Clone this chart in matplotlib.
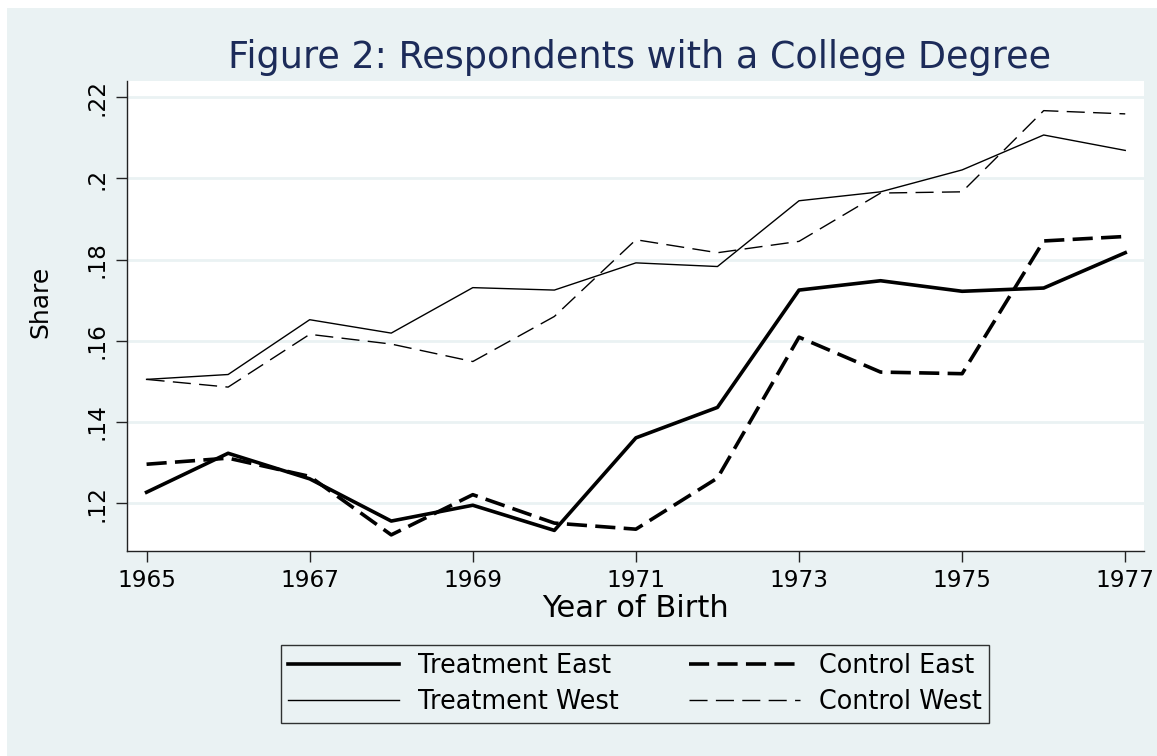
import matplotlib
matplotlib.use("Agg")
import matplotlib.pyplot as plt
from matplotlib.patches import Rectangle

plt.rcParams['font.family'] = ['DejaVu Sans']
plt.rcParams['lines.scale_dashes'] = False

years = [1965, 1966, 1967, 1968, 1969, 1970, 1971, 1972, 1973, 1974, 1975, 1976, 1977]
treat_east = [0.1227, 0.1323, 0.1260, 0.1156, 0.1195, 0.1133, 0.1361, 0.1436, 0.1725, 0.1748, 0.1722, 0.1730, 0.1817]
control_east = [0.1296, 0.1311, 0.1266, 0.1122, 0.1221, 0.1151, 0.1136, 0.1262, 0.1609, 0.1523, 0.1519, 0.1846, 0.1857]
treat_west = [0.1505, 0.1517, 0.1652, 0.1619, 0.1731, 0.1725, 0.1792, 0.1783, 0.1945, 0.1967, 0.2021, 0.2107, 0.2069]
control_west = [0.1505, 0.1486, 0.1616, 0.1592, 0.1549, 0.1660, 0.1849, 0.1817, 0.1845, 0.1964, 0.1967, 0.2167, 0.2159]

xticks = [1965, 1967, 1969, 1971, 1973, 1975, 1977]
yticks = [0.12, 0.14, 0.16, 0.18, 0.20, 0.22]
ytick_labels = ['.12', '.14', '.16', '.18', '.2', '.22']

bg = '#eaf2f3'
navy = '#1c2b59'

fig = plt.figure(figsize=(11.57, 7.56), dpi=100, facecolor='white')
fig.patches.append(Rectangle((7 / 1157, 0), 1, 748 / 756, transform=fig.transFigure,
                             facecolor=bg, edgecolor='none', zorder=-10))

ax = fig.add_axes([127 / 1157, 1 - 550.7 / 756, (1144 - 127) / 1157, (550.7 - 81) / 756])
ax.set_facecolor('white')

l1, = ax.plot(years, treat_east, color='black', lw=2.6, label='Treatment East')
l2, = ax.plot(years, treat_west, color='black', lw=1.0, label='Treatment West')
l3, = ax.plot(years, control_east, color='black', lw=2.6, linestyle=(0, (14.5, 6)), label='Control East')
l4, = ax.plot(years, control_west, color='black', lw=1.0, linestyle=(0, (13, 6)), label='Control West')

ax.set_xlim(1964.76, 1977.23)
ax.set_ylim(0.1083, 0.2240)
ax.set_xticks(xticks)
ax.set_xticklabels([str(x) for x in xticks], fontsize=16.7)
ax.set_yticks(yticks)
ax.set_yticklabels(ytick_labels, fontsize=16.7, rotation=90, va='center')
ax.grid(axis='y', color=bg, lw=2)
ax.set_axisbelow(True)

for s in ['top', 'right']:
    ax.spines[s].set_visible(False)
for s in ['left', 'bottom']:
    ax.spines[s].set_color('#222222')
    ax.spines[s].set_linewidth(1.0)
ax.tick_params(direction='out', length=8, width=1.0, color='#222222', pad=5)

ax.set_xlabel('Year of Birth', fontsize=22)
ax.set_ylabel('Share', fontsize=18)
ax.xaxis.set_label_coords(0.5, -0.093)
ax.yaxis.set_label_coords(-0.073, 0.53)

fig.text(640 / 1157, 1 - 57 / 756, 'Figure 2: Respondents with a College Degree',
         fontsize=26.3, color=navy, ha='center', va='center')

leg = fig.legend([l1, l2, l3, l4], ['Treatment East', 'Treatment West', 'Control East', 'Control West'],
                 ncol=2, loc='center', bbox_to_anchor=(635 / 1157, 1 - 684 / 756),
                 fontsize=18.4, frameon=True, fancybox=False, handlelength=4.34,
                 handletextpad=0.74, columnspacing=2.75, borderpad=0.3, labelspacing=0.42)
leg.get_frame().set_facecolor(bg)
leg.get_frame().set_edgecolor('black')
leg.get_frame().set_linewidth(1.0)

fig.savefig('out.png', dpi=100, facecolor=fig.get_facecolor())
